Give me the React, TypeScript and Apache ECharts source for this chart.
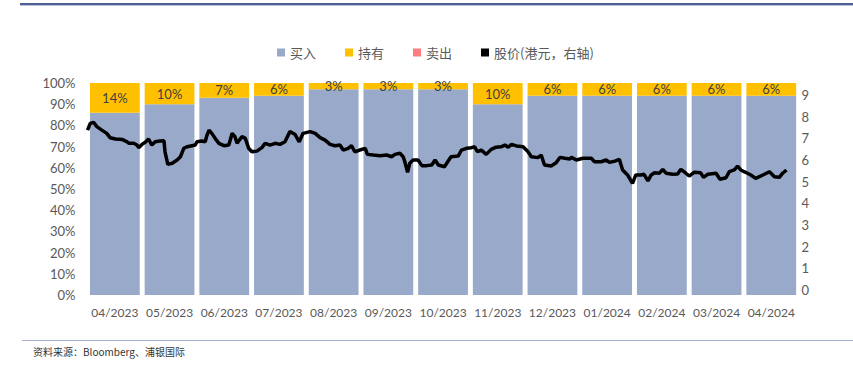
import React, { useEffect, useRef } from "react";
import * as echarts from "echarts";

const months = ["04/2023","05/2023","06/2023","07/2023","08/2023","09/2023","10/2023","11/2023","12/2023","01/2024","02/2024","03/2024","04/2024"];
const holdPct = [14, 10, 7, 6, 3, 3, 3, 10, 6, 6, 6, 6, 6];
const buyPct = [86, 90, 93, 94, 97, 97, 97, 90, 94, 94, 94, 94, 94];
const sellPct = [0, 0, 0, 0, 0, 0, 0, 0, 0, 0, 0, 0, 0];
const leftTicks = [0, 10, 20, 30, 40, 50, 60, 70, 80, 90, 100];
const rightTicks = [0, 1, 2, 3, 4, 5, 6, 7, 8, 9];

// position along the month axis (in months from start of 04/2023)
const stockT = [0.0,0.05,0.11,0.17,0.26,0.35,0.41,0.51,0.63,0.72,0.75,0.84,0.90,0.93,0.99,1.05,1.11,1.17,1.23,1.32,1.39,1.41,1.46,1.54,1.63,1.69,1.75,1.81,1.90,1.96,1.99,2.08,2.14,2.17,2.21,2.26,2.32,2.39,2.48,2.57,2.63,2.68,2.72,2.76,2.81,2.87,2.93,2.99,3.08,3.17,3.23,3.32,3.41,3.50,3.59,3.68,3.77,3.85,3.92,4.05,4.14,4.23,4.32,4.41,4.50,4.59,4.65,4.74,4.80,4.86,4.95,5.05,5.09,5.20,5.32,5.44,5.53,5.59,5.68,5.74,5.77,5.82,5.86,5.92,6.01,6.08,6.17,6.26,6.32,6.38,6.49,6.55,6.61,6.74,6.80,6.89,6.98,7.04,7.09,7.16,7.25,7.34,7.43,7.52,7.59,7.65,7.71,7.80,7.92,8.01,8.07,8.19,8.25,8.31,8.43,8.52,8.59,8.68,8.77,8.80,8.89,9.01,9.16,9.22,9.34,9.43,9.49,9.59,9.67,9.73,9.82,9.91,9.97,10.06,10.12,10.19,10.25,10.31,10.40,10.46,10.52,10.64,10.73,10.79,10.88,10.94,11.03,11.15,11.20,11.28,11.43,11.50,11.61,11.67,11.76,11.82,11.88,11.94,12.00,12.06,12.15,12.28,12.40,12.49,12.58,12.64,12.71];
const stockPrice = [7.38,7.69,7.74,7.54,7.38,7.23,7.03,6.97,6.95,6.84,6.77,6.77,6.69,6.57,6.72,6.82,6.97,6.69,6.84,6.88,6.89,6.38,5.80,5.85,6.00,6.15,6.54,6.61,6.66,6.69,6.84,6.88,6.84,7.12,7.38,7.23,7.00,6.77,6.66,6.69,7.23,7.08,6.77,6.92,7.08,7.00,6.54,6.38,6.41,6.57,6.77,6.69,6.77,6.72,6.84,7.31,7.19,6.84,7.23,7.31,7.23,7.03,6.92,6.72,6.66,6.69,6.46,6.54,6.66,6.38,6.46,6.54,6.26,6.23,6.20,6.23,6.15,6.26,6.31,6.15,5.92,5.43,5.85,6.00,6.00,5.74,5.74,5.77,6.00,5.77,5.69,5.92,6.15,6.18,6.46,6.54,6.57,6.61,6.38,6.46,6.26,6.49,6.59,6.61,6.69,6.59,6.72,6.65,6.61,6.38,6.15,6.11,6.23,5.77,5.72,5.87,6.12,6.08,6.05,6.12,6.00,6.08,6.08,5.92,5.92,6.00,5.89,5.95,6.03,5.54,5.31,4.92,5.31,5.31,5.34,5.04,5.31,5.41,5.39,5.57,5.39,5.34,5.35,5.57,5.39,5.26,5.43,5.41,5.20,5.34,5.39,5.11,5.18,5.46,5.54,5.72,5.54,5.46,5.39,5.31,5.15,5.31,5.46,5.23,5.20,5.39,5.54];

const numFont = "Lato, 'Noto Sans', sans-serif";
const cjkFont = "'Noto Sans CJK SC', sans-serif";

export default function App() {
  const ref = useRef<HTMLDivElement>(null);
  useEffect(() => {
    document.body.style.margin = "0";
    const chart = echarts.init(ref.current!, null, { renderer: "svg" });
    const gridLeft = 87.5;
    const gridRight = 54.4;
    chart.setOption({
      animation: false,
      backgroundColor: "#ffffff",
      legend: {
        top: 41,
        left: 272,
        itemWidth: 8,
        itemHeight: 8,
        itemGap: 29,
        icon: "rect",
        textStyle: { color: "#595959", fontSize: 13, fontFamily: cjkFont },
        data: ["买入", "持有", "卖出", "股价(港元，右轴)"],
      },
      grid: [
        { left: gridLeft, right: gridRight, top: 83, bottom: 71 },
        { left: gridLeft, right: gridRight, top: 95, bottom: 76 },
      ],
      xAxis: [
        {
          type: "category",
          gridIndex: 0,
          data: months,
          axisLine: { show: false },
          axisTick: { show: false },
          axisLabel: { color: "#595959", fontSize: 12, fontFamily: numFont, margin: 11, interval: 0 },
        },
        {
          type: "value",
          gridIndex: 1,
          min: 0,
          max: 12.93,
          show: false,
        },
      ],
      yAxis: [
        {
          type: "value",
          gridIndex: 0,
          min: leftTicks[0],
          max: leftTicks[leftTicks.length - 1],
          interval: 10,
          splitLine: { show: false },
          axisLine: { show: false },
          axisTick: { show: false },
          axisLabel: { color: "#595959", fontSize: 13, fontFamily: numFont, margin: 12, formatter: "{value}%" },
        },
        {
          type: "value",
          gridIndex: 1,
          position: "right",
          min: rightTicks[0],
          max: rightTicks[rightTicks.length - 1],
          interval: 1,
          splitLine: { show: false },
          axisLine: { show: false },
          axisTick: { show: false },
          axisLabel: { color: "#595959", fontSize: 13, fontFamily: numFont, margin: 3 },
        },
      ],
      series: [
        {
          name: "买入",
          type: "bar",
          stack: "a",
          xAxisIndex: 0,
          yAxisIndex: 0,
          barCategoryGap: "9%",
          data: buyPct,
          itemStyle: { color: "#98a9c9" },
        },
        {
          name: "持有",
          type: "bar",
          stack: "a",
          xAxisIndex: 0,
          yAxisIndex: 0,
          data: holdPct,
          itemStyle: { color: "#ffc000" },
          label: {
            show: true,
            position: "inside",
            formatter: "{c}%",
            color: "#404040",
            fontSize: 13,
            fontFamily: numFont,
          },
        },
        {
          name: "卖出",
          type: "bar",
          stack: "a",
          xAxisIndex: 0,
          yAxisIndex: 0,
          data: sellPct,
          itemStyle: { color: "#ff7c80" },
        },
        {
          name: "股价(港元，右轴)",
          type: "line",
          xAxisIndex: 1,
          yAxisIndex: 1,
          data: stockT.map((t, i) => [t, stockPrice[i]]),
          symbol: "none",
          lineStyle: { color: "#000000", width: 3.5 },
          itemStyle: { color: "#000000" },
          z: 5,
        },
      ],
      graphic: [
        { type: "rect", shape: { x: 20, y: 3, width: 833, height: 2 }, style: { fill: "#4f5f8f" } },
        { type: "rect", shape: { x: 20, y: 5, width: 833, height: 1 }, style: { fill: "#b8c4e0" } },
        { type: "rect", shape: { x: 22, y: 340, width: 831, height: 1 }, style: { fill: "#a9b0d4" } },
        {
          type: "text",
          left: 33,
          top: 346,
          style: { text: "资料来源：Bloomberg、浦银国际", fontSize: 10, fill: "#333333", fontFamily: cjkFont },
        },
      ],
    });
    return () => chart.dispose();
  }, []);
  return <div ref={ref} style={{ position: "absolute", left: 0, top: 0, width: 853, height: 366 }} />;
}
